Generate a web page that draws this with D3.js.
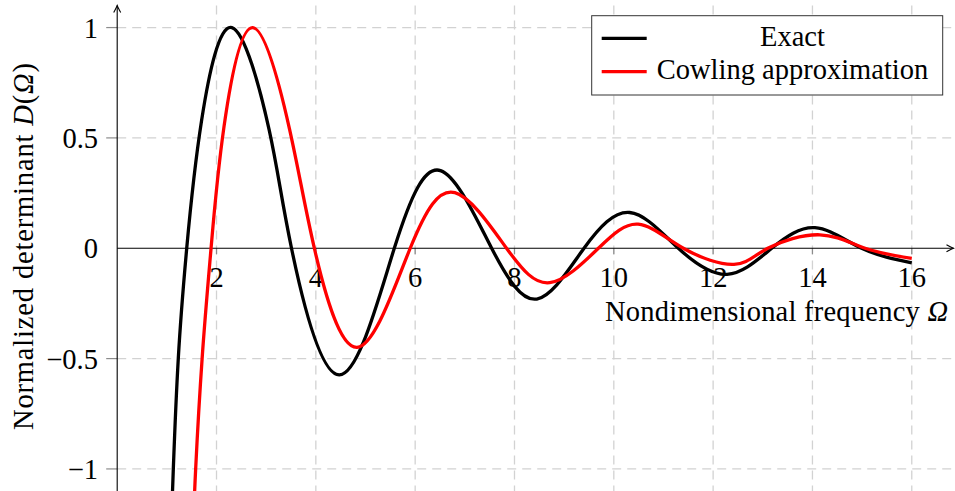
<!DOCTYPE html>
<html>
<head>
<meta charset="utf-8">
<script src="https://cdn.jsdelivr.net/npm/d3@7"></script>
<style>
  html, body { margin: 0; padding: 0; background: #fff; }
  svg { display: block; font-family: 'Liberation Serif', 'DejaVu Serif', serif; }
</style>
</head>
<body>
<svg id="svg_chart" width="955" height="491"></svg>
<script>
// values
const exact_pts = [
  [1.09, -1.25], [1.13, -1.0], [1.23, -0.5], [1.40, 0], [1.70, 0.58], [2.31, 1.0],
  [3.06, 0.536], [3.51, 0], [4.47, -0.574], [5.58, 0], [6.51, 0.352],
  [7.54, 0], [8.45, -0.23], [9.40, 0], [10.32, 0.162], [11.30, 0], [12.28, -0.118],
  [13.18, 0], [14.05, 0.093], [14.99, 0], [16.0, -0.066],
];
const cowling_pts = [
  [1.545, -1.2], [1.58, -1.0], [1.71, -0.5], [1.89, 0], [2.15, 0.55], [2.73, 1.0],
  [3.47, 0.54], [3.97, 0], [4.83, -0.449], [5.90, 0], [6.80, 0.252], [7.84, 0],
  [8.71, -0.156], [9.69, 0], [10.49, 0.109], [11.40, 0], [12.42, -0.073], [13.10, 0],
  [14.15, 0.061], [15.06, 0], [16.0, -0.046],
];
const x_ticks = [2, 4, 6, 8, 10, 12, 14, 16];
const y_grid = [-1, -0.5, 0.5, 1];
const y_ticks = [-1, -0.5, 0, 0.5, 1];
const y_tick_labels = ['\u22121', '\u22120.5', '0', '0.5', '1'];
const series_names = ['Exact', 'Cowling approximation'];
const series_colors = ['#000000', '#ff0000'];

const svg = d3.select('#svg_chart');
const font_size = '28.5px';
const grid_color = '#d2d2d2';

const x = d3.scaleLinear().domain([0, 16.8]).range([117.2, 951.5]);
const y = d3.scaleLinear().domain([-1.1, 1.1]).range([491, 5.5]);

svg.append('defs').append('clipPath').attr('id', 'clip_plot')
  .append('rect')
  .attr('x', x(0)).attr('y', y(1.1))
  .attr('width', x(16.8) - x(0)).attr('height', y(-1.1) - y(1.1));

// grid
const grid = svg.append('g').attr('id', 'grid')
  .attr('stroke', grid_color).attr('stroke-width', 1.3).attr('stroke-dasharray', '9,6');
grid.selectAll('line.v').data(x_ticks).enter().append('line')
  .attr('class', 'v')
  .attr('x1', d => x(d)).attr('x2', d => x(d))
  .attr('y1', y(1.1)).attr('y2', y(-1.1));
grid.selectAll('line.h').data(y_grid).enter().append('line')
  .attr('class', 'h')
  .attr('x1', x(0)).attr('x2', x(16.8))
  .attr('y1', d => y(d)).attr('y2', d => y(d));

// tick marks
const ticks = svg.append('g').attr('stroke', '#8c8c8c').attr('stroke-width', 1.2);
ticks.selectAll('line.yt').data(y_grid).enter().append('line')
  .attr('class', 'yt')
  .attr('x1', x(0) - 11).attr('x2', x(0))
  .attr('y1', d => y(d)).attr('y2', d => y(d));
ticks.selectAll('line.xt').data(x_ticks).enter().append('line')
  .attr('class', 'xt')
  .attr('x1', d => x(d)).attr('x2', d => x(d))
  .attr('y1', y(0)).attr('y2', y(0) + 6);

// axes
const axes = svg.append('g').attr('stroke', '#000').attr('stroke-width', 1.1).attr('fill', 'none');
axes.append('line').attr('x1', x(0)).attr('x2', x(16.8) + 2).attr('y1', y(0)).attr('y2', y(0));
axes.append('line').attr('x1', x(0)).attr('x2', x(0)).attr('y1', y(-1.1)).attr('y2', y(1.1));
axes.append('path')
  .attr('d', `M${x(0) - 3.5},${y(1.1) + 7} Q${x(0) - 0.8},${y(1.1) + 2} ${x(0)},${y(1.1)} Q${x(0) + 0.8},${y(1.1) + 2} ${x(0) + 3.5},${y(1.1) + 7}`);
const ax_end = x(16.8) + 2;
axes.append('path')
  .attr('d', `M${ax_end - 7},${y(0) - 3.5} Q${ax_end - 2},${y(0) - 0.8} ${ax_end},${y(0)} Q${ax_end - 2},${y(0) + 0.8} ${ax_end - 7},${y(0) + 3.5}`);

// tick labels
const labels = svg.append('g').style('font-size', font_size).attr('fill', '#000');
labels.selectAll('text.xl').data(x_ticks).enter().append('text')
  .attr('class', 'xl')
  .attr('x', d => x(d)).attr('y', y(0) + 39)
  .attr('text-anchor', 'middle')
  .text(d => d);
labels.selectAll('text.yl').data(y_ticks).enter().append('text')
  .attr('class', 'yl')
  .attr('x', 98).attr('y', d => y(d) + 10)
  .attr('text-anchor', 'end')
  .text((d, i) => y_tick_labels[i]);

// axis titles
const xlab = labels.append('text')
  .attr('x', 605).attr('y', 320.5)
  .attr('textLength', 343).attr('lengthAdjust', 'spacing');
xlab.append('tspan').text('Nondimensional frequency ');
xlab.append('tspan').style('font-style', 'italic').text('\u03A9');

const ylab = labels.append('text')
  .attr('transform', 'translate(33, 430) rotate(-90)')
  .attr('textLength', 367).attr('lengthAdjust', 'spacing');
ylab.append('tspan').text('Normalized determinant ');
ylab.append('tspan').style('font-style', 'italic').text('D');
ylab.append('tspan').text('(');
ylab.append('tspan').style('font-style', 'italic').text('\u03A9');
ylab.append('tspan').text(')');

// curves
const line = d3.line()
  .x(d => x(d[0]))
  .y(d => y(d[1]))
  .curve(d3.curveNatural);

const curves = svg.append('g').attr('clip-path', 'url(#clip_plot)');
[exact_pts, cowling_pts].forEach((pts, i) => {
  curves.append('path')
    .datum(pts)
    .attr('d', line)
    .attr('fill', 'none')
    .attr('stroke', series_colors[i])
    .attr('stroke-width', 3.3)
    .attr('stroke-linejoin', 'round');
});

// legend
const lgd = svg.append('g').attr('id', 'legend');
lgd.append('rect')
  .attr('x', 591.7).attr('y', 15.7).attr('width', 351).attr('height', 79.3)
  .attr('fill', '#fff').attr('stroke', '#333').attr('stroke-width', 1);
const lgd_items = lgd.selectAll('g.item').data(series_names).enter().append('g')
  .attr('class', 'item')
  .attr('transform', (d, i) => `translate(0, ${38.3 + i * 33.4})`);
lgd_items.append('line')
  .attr('x1', 601.7).attr('x2', 646.7).attr('y1', 0).attr('y2', 0)
  .attr('stroke', (d, i) => series_colors[i]).attr('stroke-width', 3.3);
lgd_items.append('text')
  .attr('x', 792.5).attr('y', 7.5)
  .attr('text-anchor', 'middle')
  .style('font-size', font_size)
  .text(d => d);
</script>
</body>
</html>
